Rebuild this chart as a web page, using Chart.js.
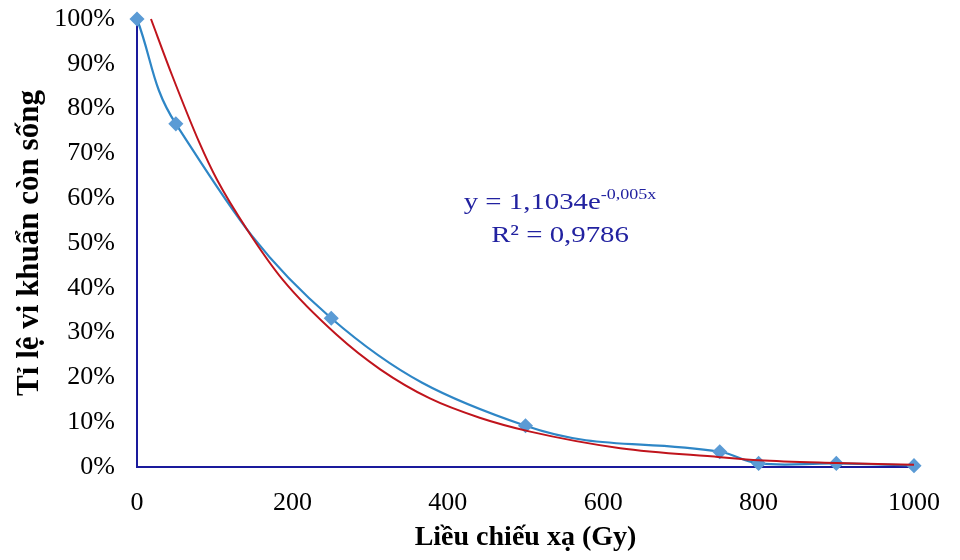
<!DOCTYPE html>
<html>
<head>
<meta charset="utf-8">
<script src="https://cdn.jsdelivr.net/npm/chart.js@4"></script>
<style>
  body { margin: 0; background: #fff; }
  #wrap { width: 960px; height: 560px; }
</style>
</head>
<body>
<div id="wrap"><canvas id="myChart" width="960" height="560"></canvas></div>
<script>
// measured points (dose in Gy, survival in %)
const doses = [0, 50, 250, 500, 750, 800, 900, 1000];
const survival = [100, 76.6, 33.2, 9.2, 3.4, 0.8, 0.8, 0.3];

// exponential trendline
const trendDoses = [18, 45, 80, 103, 142, 188, 257, 313, 377, 441, 506, 622, 750, 800, 900, 1000];
const trendValues = [100, 87.5, 72.5, 64.1, 52.9, 41.7, 29.5, 21.8, 15.3, 11.0, 7.9, 4.2, 2.2, 1.5, 0.9, 0.5];

const xTicks = [0, 200, 400, 600, 800, 1000];
const yTicks = [0, 10, 20, 30, 40, 50, 60, 70, 80, 90, 100];

const serif = "'Times New Roman', 'Liberation Serif', serif";
const axisBlue = "#1a1a9c";

const eqnPlugin = {
  id: "eqn",
  afterDraw(chart) {
    const c = chart.ctx;
    const sx = 1.2;
    c.save();
    c.fillStyle = "#2222a0";
    c.textBaseline = "alphabetic";
    c.translate(560, 0);
    c.scale(sx, 1);
    c.font = "24px " + serif;
    const main = "y = 1,1034e";
    const w1 = c.measureText(main).width;
    c.font = "15px " + serif;
    const sup = "-0,005x";
    const w2 = c.measureText(sup).width;
    let x0 = -(w1 + w2) / 2;
    c.textAlign = "left";
    c.font = "24px " + serif;
    c.fillText(main, x0, 209);
    c.font = "15px " + serif;
    c.fillText(sup, x0 + w1, 199);
    c.font = "24px " + serif;
    c.textAlign = "center";
    c.fillText("R² = 0,9786", 0, 242);
    c.restore();
  },
};

const ctx = document.getElementById("myChart");

const chart_ = new Chart(ctx, {
  type: "line",
  data: {
    datasets: [
      {
        label: "Tỉ lệ sống",
        data: doses.map((d, i) => ({ x: d, y: survival[i] })),
        borderColor: "#2e86c6",
        borderWidth: 2.2,
        backgroundColor: "#5b9bd5",
        pointBackgroundColor: "#5b9bd5",
        pointBorderColor: "#5b9bd5",
        pointStyle: "rectRot",
        pointRadius: 6,
        tension: 0.4,
        clip: false,
        order: 2,
      },
      {
        label: "Expon.",
        data: trendDoses.map((d, i) => ({ x: d, y: trendValues[i] })),
        borderColor: "#c0141c",
        borderWidth: 2,
        pointRadius: 0,
        cubicInterpolationMode: "monotone",
        clip: false,
        order: 1,
      },
    ],
  },
  options: {
    responsive: false,
    animation: false,
    layout: { padding: { top: 19, right: 46, left: 0, bottom: 0 } },
    plugins: {
      legend: { display: false },
      tooltip: { enabled: false },
    },
    scales: {
      x: {
        type: "linear",
        min: 0,
        max: 1000,
        afterBuildTicks: (s) => { s.ticks = xTicks.map((v) => ({ value: v })); },
        afterFit: (s) => {
          s.height = 93;
          s.paddingLeft = 0;
          s.paddingRight = 0;
        },
        grid: { display: false, drawTicks: false },
        border: { display: true, color: axisBlue, width: 2 },
        ticks: {
          color: "#000",
          font: { family: serif, size: 26 },
          padding: 21,
          maxRotation: 0,
          callback: (v) => String(v),
        },
        title: {
          display: true,
          text: "Liều chiếu xạ (Gy)",
          color: "#000",
          font: { family: serif, size: 28, weight: "bold" },
          padding: { top: 0, bottom: 5 },
        },
      },
      y: {
        min: 0,
        max: 100,
        afterBuildTicks: (s) => { s.ticks = yTicks.map((v) => ({ value: v })); },
        afterFit: (s) => {
          s.width = 137;
          s.paddingTop = 0;
          s.paddingBottom = 0;
        },
        grid: { display: false, drawTicks: false },
        border: { display: true, color: axisBlue, width: 2 },
        ticks: {
          color: "#000",
          font: { family: serif, size: 26 },
          padding: 22,
          callback: (v) => v + "%",
        },
        title: {
          display: true,
          text: "Tỉ lệ vi khuẩn còn sống",
          color: "#000",
          font: { family: serif, size: 31, weight: "bold" },
          padding: { top: 11, bottom: 0 },
        },
      },
    },
  },
  plugins: [eqnPlugin],
});
</script>
</body>
</html>
